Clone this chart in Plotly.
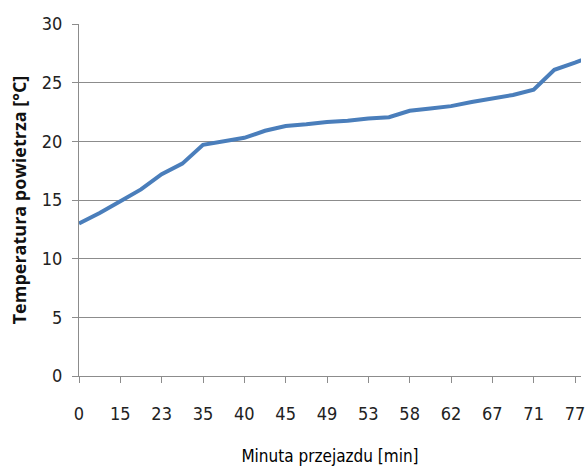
import plotly.graph_objects as go

# Air temperature logged during the ride; every second sample carries a minute label
temperatures = [13.0, 13.9, 14.9, 15.9, 17.2, 18.1, 19.7, 20.0, 20.3, 20.9,
                21.3, 21.45, 21.65, 21.75, 21.95, 22.05, 22.6, 22.8, 23.0, 23.35,
                23.65, 23.95, 24.4, 26.1, 26.7, 27.4]
minute_labels = ["0", "15", "23", "35", "40", "45", "49", "53", "58", "62", "67", "71", "77"]
y_ticks = [0, 5, 10, 15, 20, 25, 30]

sample_index = list(range(len(temperatures)))
label_positions = sample_index[::2][:len(minute_labels)]

narrow = "Liberation Sans Narrow, DejaVu Sans Condensed, Arial Narrow, sans-serif"
grid = "#8c8c8c"

fig = go.Figure(
    go.Scatter(
        x=sample_index,
        y=temperatures,
        mode="lines",
        line=dict(color="#4a7ebb", width=4),
        hoverinfo="x+y",
    )
)

fig.update_layout(
    width=585,
    height=468,
    margin=dict(l=79, r=0, t=24, b=92),
    paper_bgcolor="white",
    plot_bgcolor="white",
    showlegend=False,
    xaxis=dict(
        range=[0, 24.29],
        tickmode="array",
        tickvals=label_positions,
        ticktext=minute_labels,
        showgrid=False,
        zeroline=False,
        showline=True,
        linecolor=grid,
        linewidth=1,
        ticks="outside",
        ticklen=6,
        tickcolor=grid,
        ticklabelstandoff=15,
        ticklabeloverflow="allow",
        tickfont=dict(family=narrow, size=18, color="#222222"),
        title=dict(
            text="Minuta przejazdu [min]",
            font=dict(family=narrow, size=17, color="#000000"),
            standoff=27,
        ),
    ),
    yaxis=dict(
        range=[0, 30],
        tickmode="array",
        tickvals=y_ticks,
        showgrid=True,
        gridcolor=grid,
        gridwidth=1,
        zeroline=False,
        showline=True,
        linecolor=grid,
        linewidth=1,
        ticks="outside",
        ticklen=6,
        tickcolor=grid,
        ticklabelstandoff=6,
        tickfont=dict(family=narrow, size=18, color="#222222"),
        title=dict(
            text="Temperatura powietrza [°C]",
            font=dict(family="Open Sans, sans-serif", size=18, color="#111111", weight="bold"),
            standoff=10,
        ),
    ),
)

fig.write_html("out.html")
